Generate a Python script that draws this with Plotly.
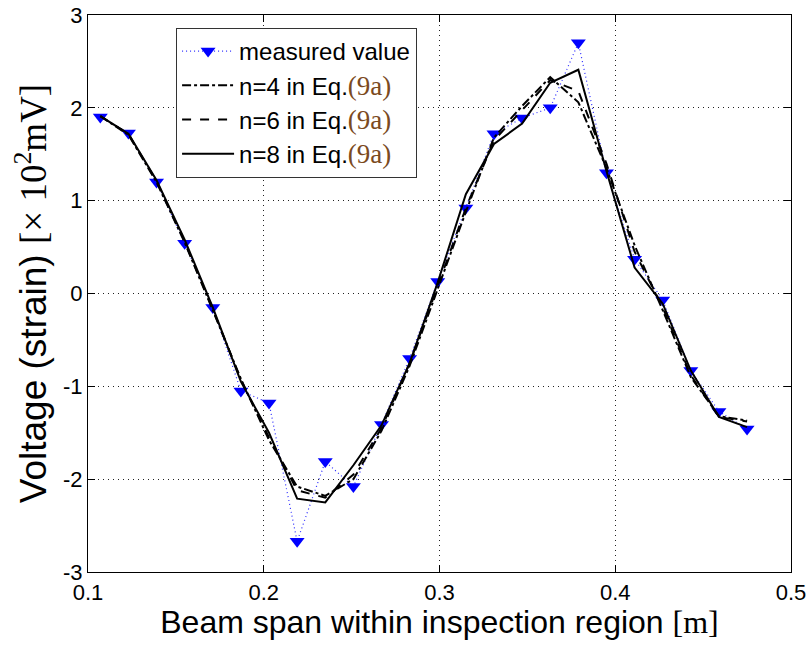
import plotly.graph_objects as go

# Sampling positions along the beam span [m]
span_x = [0.107, 0.123, 0.139, 0.155, 0.171, 0.187, 0.203, 0.219,
          0.235, 0.251, 0.267, 0.283, 0.299, 0.315, 0.331, 0.347,
          0.363, 0.379, 0.395, 0.411, 0.427, 0.443, 0.459, 0.475]

# Measured voltage (strain), x 10^2 mV
measured = [1.90, 1.73, 1.20, 0.54, -0.15, -1.05, -1.18, -2.67,
            -1.81, -2.08, -1.41, -0.70, 0.13, 0.92, 1.72, 1.89,
            2.00, 2.70, 1.30, 0.37, -0.07, -0.83, -1.27, -1.46]

# Reconstructions from Eq.(9a) with n terms
fit_n4 = [1.91, 1.71, 1.20, 0.55, -0.18, -0.92, -1.58, -2.08,
          -2.18, -2.00, -1.48, -0.78, 0.05, 0.88, 1.68, 2.02,
          2.33, 2.06, 1.35, 0.52, -0.18, -0.90, -1.32, -1.37]
fit_n6 = [1.91, 1.72, 1.21, 0.56, -0.17, -0.93, -1.55, -2.12,
          -2.20, -1.95, -1.45, -0.75, 0.08, 0.92, 1.65, 1.98,
          2.30, 2.18, 1.40, 0.45, -0.15, -0.88, -1.33, -1.38]
fit_n8 = [1.91, 1.72, 1.22, 0.58, -0.15, -0.95, -1.50, -2.21,
          -2.25, -1.85, -1.42, -0.75, 0.12, 1.07, 1.61, 1.83,
          2.27, 2.41, 1.32, 0.28, -0.11, -0.83, -1.33, -1.44]

x_ticks = [0.1, 0.2, 0.3, 0.4, 0.5]
y_ticks = [-3, -2, -1, 0, 1, 2, 3]

SERIF = "'Liberation Serif', 'Times New Roman', serif"
SANS = "'Liberation Sans', Arial, sans-serif"
EQ = ('<span style="font-family:%s;font-size:27px;color:#7B4A1E">(9a)</span>'
      % SERIF)

fig = go.Figure()

fig.add_trace(go.Scatter(
    x=span_x, y=measured, name="measured value", mode="lines+markers",
    line=dict(color="#2a2aff", width=1.2, dash="1px,3px"),
    marker=dict(symbol="triangle-down", size=13, color="#0000ff",
                line=dict(width=0)),
))
fig.add_trace(go.Scatter(
    x=span_x, y=fit_n4, name="n=4 in Eq." + EQ, mode="lines",
    line=dict(color="black", width=2, dash="dashdot"),
))
fig.add_trace(go.Scatter(
    x=span_x, y=fit_n6, name="n=6 in Eq." + EQ, mode="lines",
    line=dict(color="black", width=2, dash="dash"),
))
fig.add_trace(go.Scatter(
    x=span_x, y=fit_n8, name="n=8 in Eq." + EQ, mode="lines",
    line=dict(color="black", width=2),
))

axis_common = dict(
    showline=True, linecolor="black", linewidth=1.2, mirror="allticks",
    ticks="inside", ticklen=7, tickcolor="black", tickwidth=1,
    showgrid=True, gridcolor="#222222", gridwidth=1, griddash="1px,4px",
    zeroline=False, automargin=False,
    tickfont=dict(family=SANS, size=22, color="black"),
)

fig.update_layout(
    width=810, height=650,
    margin=dict(l=88, r=19, t=15, b=78),
    paper_bgcolor="white", plot_bgcolor="white",
    font=dict(family=SANS, color="black"),
    showlegend=True,
    legend=dict(
        x=0.125, y=0.977, xanchor="left", yanchor="top",
        bgcolor="white", bordercolor="#333333", borderwidth=1.2,
        font=dict(family=SANS, size=24, color="black"),
        tracegroupgap=0, itemwidth=52,
    ),
    xaxis=dict(
        range=[0.1, 0.5], tickvals=x_ticks,
        ticktext=[f"{v:.1f}" for v in x_ticks],
        title=dict(
            text='Beam span within inspection region '
                 '<span style="font-family:%s">[m]</span>' % SERIF,
            font=dict(family=SANS, size=32), standoff=6),
        **axis_common,
    ),
    yaxis=dict(
        range=[-3, 3], tickvals=y_ticks,
        ticktext=[str(v) for v in y_ticks],
        title=dict(
            text='Voltage (strain) '
                 '<span style="font-family:%s">[× 10<sup>2</sup>mV]</span>' % SERIF,
            font=dict(family=SANS, size=37), standoff=4),
        **axis_common,
    ),
)

fig.write_html("out.html")
